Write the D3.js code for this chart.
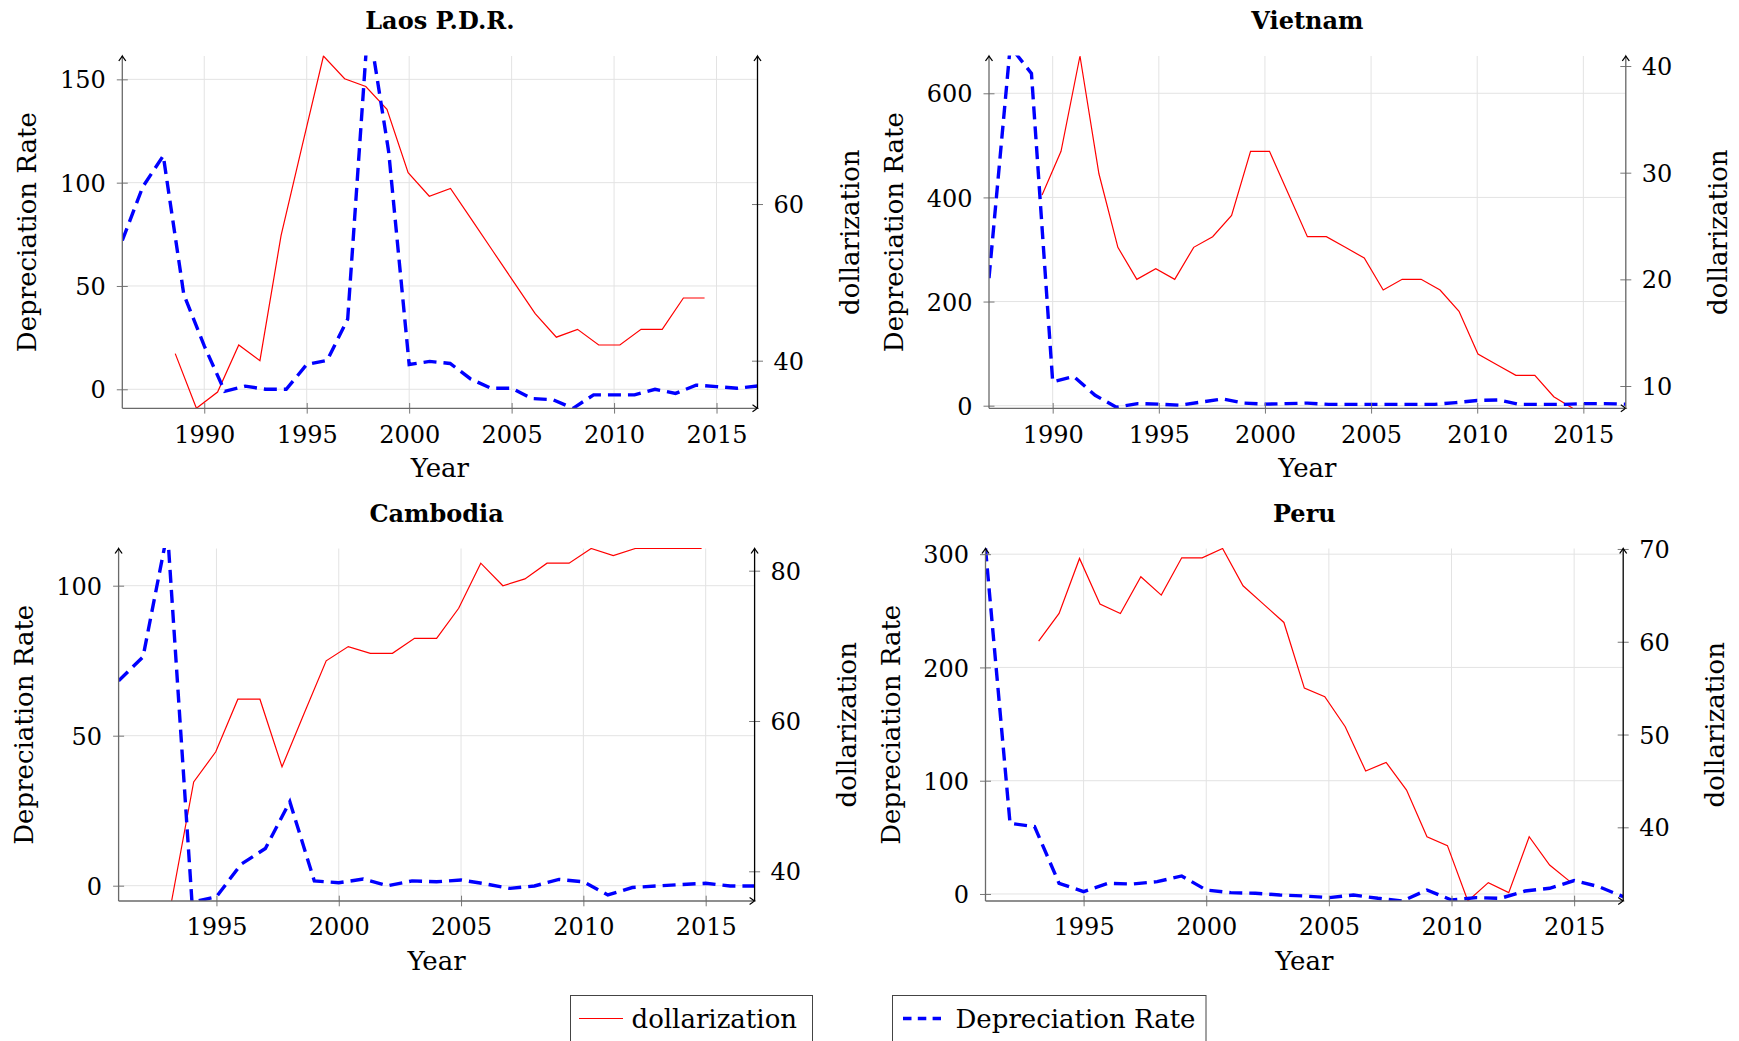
<!DOCTYPE html>
<html>
<head>
<meta charset="utf-8">
<script src="https://cdn.jsdelivr.net/npm/d3@7"></script>
<style>
  body { margin: 0; background: #fff; }
  text { font-family: "DejaVu Serif", serif; fill: #000; }
</style>
</head>
<body>
<div id="chart"></div>
<script>
// ---- data ----
// Depreciation Rate (blue dashed, left axis)
const laosDepYears = [1986,1987,1988,1989,1990,1991,1992,1993,1994,1995,1996,1997,1998,1999,2000,2001,2002,2003,2004,2005,2006,2007,2008,2009,2010,2011,2012,2013,2014,2015,2016,2017];
const laosDep = [72, 98, 113, 46, 21, -1, 1.5, 0, 0, 12, 14, 34, 178, 115, 12, 13.5, 12.5, 5, 0.5, 0.5, -4.5, -5, -9.2, -2.7, -2.7, -2.7, 0, -2, 2, 1.3, 0.5, 1.6];

const vietDepYears = [1987,1988,1989,1990,1991,1992,1993,1994,1995,1996,1997,1998,1999,2000,2001,2002,2003,2004,2005,2006,2007,2008,2009,2010,2011,2012,2013,2014,2015,2016,2017];
const vietDep = [245, 690, 638, 46, 56, 20, -3, 4, 3, 1, 7, 13, 5, 3, 4, 5, 2.5, 2.5, 2.5, 2.5, 2.5, 2.5, 6, 10, 11, 2.5, 2.5, 2.5, 4, 4, 3];

const cambDepYears = [1991,1992,1993,1994,1995,1996,1997,1998,1999,2000,2001,2002,2003,2004,2005,2006,2007,2008,2009,2010,2011,2012,2013,2014,2015,2016,2017];
const cambDep = [68.3, 76.3, 118, -5.5, -3.7, 7.1, 12.4, 28, 1.6, 1.0, 2.2, 0, 1.6, 1.3, 1.9, 0.6, -0.9, -0.1, 2.1, 1.3, -3.1, -0.6, -0.1, 0.4, 0.8, -0.1, -0.1];

const peruDepYears = [1991,1992,1993,1994,1995,1996,1997,1998,1999,2000,2001,2002,2003,2004,2005,2006,2007,2008,2009,2010,2011,2012,2013,2014,2015,2016,2017];
const peruDep = [305, 62.4, 59.5, 9.4, 2.1, 9.4, 8.8, 10.9, 15.9, 3.5, 1.2, 0.6, -0.9, -1.8, -3.2, -0.9, -3.8, -6.2, 3.5, -5.3, -3.2, -3.8, 2.6, 5.0, 11.8, 6.5, -2.4];

// dollarization (red, right axis, own hidden x axis)
const laosDolYears = [1989,1990,1991,1992,1993,1994,1995,1996,1997,1998,1999,2000,2001,2002,2003,2004,2005,2006,2007,2008,2009,2010,2011,2012,2013,2014];
const laosDol = [40.9, 33.92, 36.0, 42.0, 40.0, 56.0, 67.5, 78.9, 76.0, 75.0, 72.1, 64.0, 61.0, 62.0, 58.0, 54.0, 50.0, 46.0, 43.0, 44.0, 42.0, 42.0, 44.0, 44.0, 48.0, 48.0];

const vietDolYears = [1989,1990,1991,1992,1993,1994,1995,1996,1997,1998,1999,2000,2001,2002,2003,2004,2005,2006,2007,2008,2009,2010,2011,2012,2013,2014,2015,2016,2017];
const vietDol = [27.9, 32.0, 40.94, 29.9, 23.0, 20.0, 21.0, 20.0, 23.0, 24.0, 26.0, 32.0, 32.0, 28.0, 24.0, 24.0, 23.0, 22.0, 19.0, 20.0, 20.0, 19.0, 17.0, 13.0, 12.0, 11.0, 11.0, 9.0, 7.91];

const cambDolYears = [1993,1994,1995,1996,1997,1998,1999,2000,2001,2002,2003,2004,2005,2006,2007,2008,2009,2010,2011,2012,2013,2014,2015,2016,2017];
const cambDol = [36.05, 51.9, 55.9, 62.9, 62.9, 53.9, 61.0, 68.0, 69.9, 69.0, 69.0, 71.0, 71.0, 75.0, 81.0, 78.0, 78.9, 81.0, 81.0, 82.95, 82.0, 82.95, 82.95, 82.95, 82.95];

const peruDolYears = [1991,1992,1993,1994,1995,1996,1997,1998,1999,2000,2001,2002,2003,2004,2005,2006,2007,2008,2009,2010,2011,2012,2013,2014,2015,2016,2017];
const peruDol = [60.07, 63.05, 68.98, 64.06, 63.05, 67.0, 65.03, 69.05, 69.05, 70.05, 66.03, 64.06, 62.08, 55.0, 54.08, 50.84, 46.07, 47.0, 44.02, 38.99, 38.03, 32.06, 34.04, 32.96, 38.99, 35.94, 34.15];

// tick labels
const xTicksTop = [1990, 1995, 2000, 2005, 2010, 2015];
const xTicksBottom = [1995, 2000, 2005, 2010, 2015];
const laosLeftTicks = [0, 50, 100, 150], laosRightTicks = [40, 60];
const vietLeftTicks = [0, 200, 400, 600], vietRightTicks = [10, 20, 30, 40];
const cambLeftTicks = [0, 50, 100], cambRightTicks = [40, 60, 80];
const peruLeftTicks = [0, 100, 200, 300], peruRightTicks = [40, 50, 60, 70];

// ---- svg ----
const W = 1739, H = 1041;
const svg = d3.select("#chart").append("svg")
  .attr("width", W).attr("height", H)
  .style("background", "#fff");

const panels = [
  { id: "laos", title: "Laos P.D.R.", left: 122.3, right: 757.5, top: 56, bottom: 408.3,
    xDomain: [1986, 2017], yDomain: [-9.2, 161.3], xTicks: xTicksTop, yTicks: laosLeftTicks, yrTicks: laosRightTicks,
    depYears: laosDepYears, dep: laosDep, dolYears: laosDolYears, dol: laosDol, rightColor: "#000" },
  { id: "viet", title: "Vietnam", left: 989, right: 1625.8, top: 56, bottom: 408.3,
    xDomain: [1987, 2017], yDomain: [-5.0, 671.6], xTicks: xTicksTop, yTicks: vietLeftTicks, yrTicks: vietRightTicks,
    depYears: vietDepYears, dep: vietDep, dolYears: vietDolYears, dol: vietDol, rightColor: "#666" },
  { id: "camb", title: "Cambodia", left: 118.6, right: 754.6, top: 548.5, bottom: 901,
    xDomain: [1991, 2017], yDomain: [-5.1, 112.4], xTicks: xTicksBottom, yTicks: cambLeftTicks, yrTicks: cambRightTicks,
    depYears: cambDepYears, dep: cambDep, dolYears: cambDolYears, dol: cambDol, rightColor: "#000" },
  { id: "peru", title: "Peru", left: 985.5, right: 1623.2, top: 548.5, bottom: 901,
    xDomain: [1991, 2017], yDomain: [-6.2, 305], xTicks: xTicksBottom, yTicks: peruLeftTicks, yrTicks: peruRightTicks,
    depYears: peruDepYears, dep: peruDep, dolYears: peruDolYears, dol: peruDol, rightColor: "#000" }
];

// little "to" arrow tip like tikz
function arrowTip(g, x, y, dir) {
  let d;
  if (dir === "up") d = `M${x-3.5},${y+5} C${x-2},${y+2.5} ${x-0.4},${y+1} ${x},${y} C${x+0.4},${y+1} ${x+2},${y+2.5} ${x+3.5},${y+5}`;
  else d = `M${x-5},${y-3.5} C${x-2.5},${y-2} ${x-1},${y-0.4} ${x},${y} C${x-1},${y+0.4} ${x-2.5},${y+2} ${x-5},${y+3.5}`;
  g.append("path").attr("d", d).attr("fill", "none").attr("stroke", "#000").attr("stroke-width", 1.2);
}

function drawPanel(p) {
  const g = svg.append("g").attr("class", "panel " + p.id);

  const x = d3.scaleLinear().domain(p.xDomain).range([p.left, p.right]);
  const y = d3.scaleLinear().domain(p.yDomain).range([p.bottom, p.top]);

  // second axis: pgfplots enlarges its x range by 10% each side, y fits the data
  const r0 = d3.min(p.dolYears), r1 = d3.max(p.dolYears), span = r1 - r0;
  const xr = d3.scaleLinear().domain([r0 - 0.1 * span, r1 + 0.1 * span]).range([p.left, p.right]);
  const yr = d3.scaleLinear().domain(d3.extent(p.dol)).range([p.bottom, p.top]);

  // grid
  g.append("g").selectAll("line").data(p.xTicks).enter().append("line")
    .attr("x1", d => x(d)).attr("x2", d => x(d))
    .attr("y1", p.top).attr("y2", p.bottom)
    .attr("stroke", "#e3e3e3").attr("stroke-width", 1);
  g.append("g").selectAll("line").data(p.yTicks).enter().append("line")
    .attr("x1", p.left).attr("x2", p.right)
    .attr("y1", d => y(d)).attr("y2", d => y(d))
    .attr("stroke", "#e3e3e3").attr("stroke-width", 1);

  // clip for lines
  g.append("clipPath").attr("id", "clip-" + p.id)
    .append("rect").attr("x", p.left).attr("y", p.top - 0.5)
    .attr("width", p.right - p.left).attr("height", p.bottom - p.top + 0.5);

  const plot = g.append("g").attr("clip-path", `url(#clip-${p.id})`);

  // dollarization
  const lineDol = d3.line().x(d => xr(d[0])).y(d => yr(d[1]));
  plot.append("path")
    .datum(p.dolYears.map((yy, i) => [yy, p.dol[i]]))
    .attr("d", lineDol)
    .attr("fill", "none").attr("stroke", "#ff0000").attr("stroke-width", 1.2)
    .attr("stroke-linejoin", "miter");

  // depreciation, dashed
  const lineDep = d3.line().x(d => x(d[0])).y(d => y(d[1]));
  plot.append("path")
    .datum(p.depYears.map((yy, i) => [yy, p.dep[i]]))
    .attr("d", lineDep)
    .attr("fill", "none").attr("stroke", "#0000ff").attr("stroke-width", 3.4)
    .attr("stroke-dasharray", "13,7");

  // left axis
  const yAxis = d3.axisLeft(y).tickValues(p.yTicks).tickSizeInner(5.5).tickSizeOuter(0).tickFormat(d3.format("d"));
  const ya = g.append("g").attr("transform", `translate(${p.left},0)`).call(yAxis);
  ya.select(".domain").remove();
  ya.selectAll(".tick line").attr("x1", 5.5).attr("x2", -5.5).attr("stroke", "#777");
  ya.selectAll(".tick text").attr("x", -16.5).attr("dy", "0.36em")
    .style("font-size", "24px").style("font-family", "DejaVu Serif");
  g.append("line").attr("x1", p.left).attr("x2", p.left).attr("y1", p.bottom).attr("y2", p.top)
    .attr("stroke", "#6a6a6a").attr("stroke-width", 1.3);
  arrowTip(g, p.left, p.top, "up");

  // bottom axis
  const xAxis = d3.axisBottom(x).tickValues(p.xTicks).tickSizeInner(5.3).tickSizeOuter(0).tickFormat(d3.format("d"));
  const xa = g.append("g").attr("transform", `translate(0,${p.bottom})`).call(xAxis);
  xa.select(".domain").remove();
  xa.selectAll(".tick line").attr("y1", -5.3).attr("y2", 5.3).attr("stroke", "#777");
  xa.selectAll(".tick text").attr("y", 17).attr("dy", "0.72em")
    .style("font-size", "24px").style("font-family", "DejaVu Serif");
  g.append("line").attr("x1", p.left).attr("x2", p.right).attr("y1", p.bottom).attr("y2", p.bottom)
    .attr("stroke", "#6a6a6a").attr("stroke-width", 1.3);
  arrowTip(g, p.right, p.bottom, "right");

  // right axis (dollarization)
  const yrAxis = d3.axisRight(yr).tickValues(p.yrTicks).tickSizeInner(5.5).tickSizeOuter(0).tickFormat(d3.format("d"));
  const yra = g.append("g").attr("transform", `translate(${p.right},0)`).call(yrAxis);
  yra.select(".domain").remove();
  yra.selectAll(".tick line").attr("x1", -5.5).attr("x2", 5.5).attr("stroke", "#777");
  yra.selectAll(".tick text").attr("x", 16).attr("dy", "0.36em")
    .style("font-size", "24px").style("font-family", "DejaVu Serif");
  g.append("line").attr("x1", p.right).attr("x2", p.right).attr("y1", p.bottom).attr("y2", p.top)
    .attr("stroke", p.rightColor).attr("stroke-width", 1.3);
  arrowTip(g, p.right, p.top, "up");

  // labels
  const cx = (p.left + p.right) / 2, cy = (p.top + p.bottom) / 2;
  g.append("text").attr("x", cx).attr("y", p.top - 27)
    .attr("text-anchor", "middle").style("font-size", "24px").style("font-weight", "bold")
    .text(p.title);
  g.append("text").attr("x", cx).attr("y", p.bottom + 69)
    .attr("text-anchor", "middle").style("font-size", "26px").text("Year");
  g.append("text").attr("transform", `translate(${p.left - 86},${cy}) rotate(-90)`)
    .attr("text-anchor", "middle").style("font-size", "26px").text("Depreciation Rate");
  g.append("text").attr("transform", `translate(${p.right + 101},${cy}) rotate(-90)`)
    .attr("text-anchor", "middle").style("font-size", "26px").text("dollarization");
}

panels.forEach(drawPanel);

// ---- legends (one box per axis, like pgfplots) ----
const leg = svg.append("g").attr("class", "legend");
leg.append("rect").attr("x", 570.5).attr("y", 995.5).attr("width", 242).attr("height", 70)
  .attr("fill", "#fff").attr("stroke", "#444").attr("stroke-width", 1);
leg.append("line").attr("x1", 579).attr("x2", 623).attr("y1", 1018.5).attr("y2", 1018.5)
  .attr("stroke", "#ff0000").attr("stroke-width", 1.2);
leg.append("text").attr("x", 631.5).attr("y", 1028).style("font-size", "26px").text("dollarization");

leg.append("rect").attr("x", 892.5).attr("y", 995.5).attr("width", 313.5).attr("height", 70)
  .attr("fill", "#fff").attr("stroke", "#444").attr("stroke-width", 1);
leg.append("line").attr("x1", 903).attr("x2", 941).attr("y1", 1018.5).attr("y2", 1018.5)
  .attr("stroke", "#0000ff").attr("stroke-width", 3.4).attr("stroke-dasharray", "8.5,6.3");
leg.append("text").attr("x", 955.5).attr("y", 1028).style("font-size", "26px").text("Depreciation Rate");
</script>
</body>
</html>
